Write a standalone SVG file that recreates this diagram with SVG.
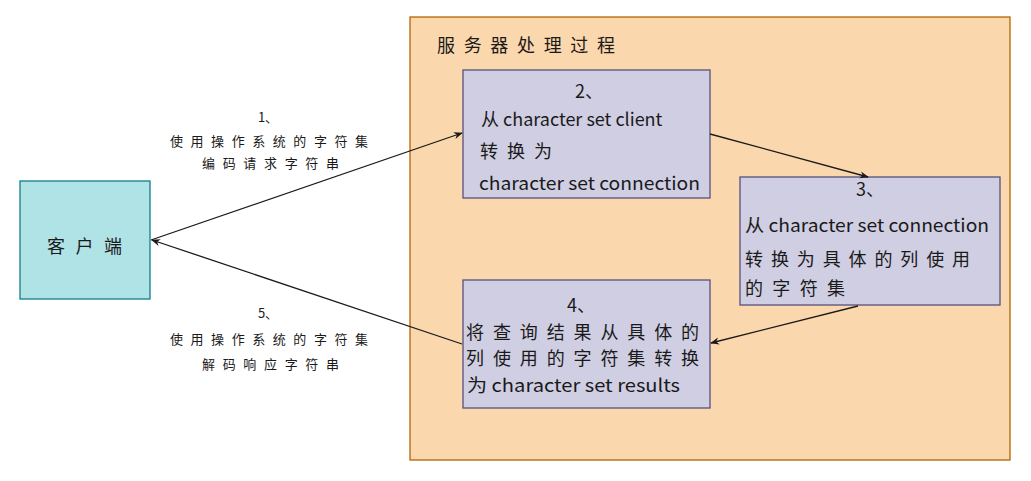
<svg xmlns="http://www.w3.org/2000/svg" width="1031" height="481" viewBox="0 0 1031 481">
<defs>
<style>
.t{font-family:"Noto Sans CJK SC","Noto Sans",sans-serif;fill:#1a1a1a}
.n{font-size:18px}
.s{font-size:13px}
.c{stroke:#1a1a1a;stroke-width:1.3;fill:none}
</style>
<marker id="ah" viewBox="0 0 10 10" refX="9" refY="5" markerWidth="9" markerHeight="9" markerUnits="userSpaceOnUse" orient="auto">
<path d="M0,1 L10,5 L0,9 L3,5 Z" fill="#1a1a1a"/>
</marker>
</defs>
<rect width="1031" height="481" fill="#ffffff"/>
<g id="server">
<rect x="410" y="17" width="600" height="443" fill="#fad7ac" stroke="#b46504" stroke-width="1.3"/>
<text class="t n" x="437" y="52" textLength="178" lengthAdjust="spacing">服务器处理过程</text>
</g>
<g id="client">
<rect x="20" y="181" width="130" height="118" fill="#b0e3e6" stroke="#0e8088" stroke-width="1.3"/>
<text class="t n" x="47" y="253" textLength="75" lengthAdjust="spacing">客户端</text>
</g>
<g id="step2">
<rect x="463" y="70" width="247" height="128" fill="#d0cee2" stroke="#56517e" stroke-width="1.3"/>
<text class="t n" x="575" y="98">2、</text>
<text class="t n" x="481" y="126">从 character set client</text>
<text class="t n" x="480" y="158" textLength="72" lengthAdjust="spacing">转换为</text>
<text class="t n" x="479" y="190" textLength="221" lengthAdjust="spacingAndGlyphs">character set connection</text>
</g>
<g id="step3">
<rect x="740" y="177" width="260" height="128" fill="#d0cee2" stroke="#56517e" stroke-width="1.3"/>
<text class="t n" x="856" y="196">3、</text>
<text class="t n" x="745" y="232" textLength="244" lengthAdjust="spacingAndGlyphs">从 character set connection</text>
<text class="t n" x="745" y="266" textLength="225" lengthAdjust="spacing">转换为具体的列使用</text>
<text class="t n" x="745" y="295" textLength="100" lengthAdjust="spacing">的字符集</text>
</g>
<g id="step4">
<rect x="463" y="280" width="247" height="128" fill="#d0cee2" stroke="#56517e" stroke-width="1.3"/>
<text class="t n" x="567" y="312">4、</text>
<text class="t n" x="466" y="339" textLength="233" lengthAdjust="spacing">将查询结果从具体的</text>
<text class="t n" x="466" y="365" textLength="233" lengthAdjust="spacing">列使用的字符集转换</text>
<text class="t n" x="467" y="392" textLength="213" lengthAdjust="spacingAndGlyphs">为 character set results</text>
</g>
<g id="connectors">
<path class="c" d="M151,240 L462,133" marker-end="url(#ah)"/>
<path class="c" d="M462,344 L152,240" marker-end="url(#ah)"/>
<path class="c" d="M710,134 L868,177" marker-end="url(#ah)"/>
<path class="c" d="M858,306 L711,343" marker-end="url(#ah)"/>
</g>
<g id="labels">
<text class="t s" x="268" y="122" text-anchor="middle">1、</text>
<text class="t s" x="170" y="146" textLength="198" lengthAdjust="spacing">使用操作系统的字符集</text>
<text class="t s" x="202" y="168" textLength="137" lengthAdjust="spacing">编码请求字符串</text>
<text class="t s" x="268" y="318" text-anchor="middle">5、</text>
<text class="t s" x="170" y="344" textLength="198" lengthAdjust="spacing">使用操作系统的字符集</text>
<text class="t s" x="202" y="369" textLength="137" lengthAdjust="spacing">解码响应字符串</text>
</g>
</svg>
